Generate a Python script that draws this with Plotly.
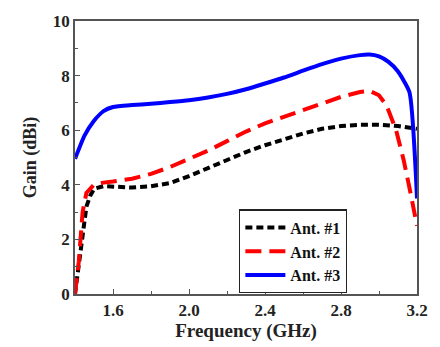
import plotly.graph_objects as go

freq1 = [1.40, 1.42, 1.44, 1.46, 1.48, 1.50, 1.55, 1.60, 1.70, 1.80, 1.90, 2.00, 2.10, 2.20, 2.30,
         2.40, 2.50, 2.60, 2.70, 2.80, 2.90, 3.00, 3.10, 3.20]
gain1 = [0.0, 1.0, 2.2, 3.2, 3.6, 3.85, 3.95, 3.93, 3.90, 3.95, 4.06, 4.32, 4.62, 4.93, 5.20,
         5.45, 5.68, 5.88, 6.05, 6.15, 6.20, 6.20, 6.15, 6.05]

freq2 = [1.40, 1.42, 1.44, 1.46, 1.50, 1.55, 1.60, 1.70, 1.80, 1.90, 2.00, 2.10, 2.20, 2.30,
         2.40, 2.50, 2.60, 2.70, 2.80, 2.90, 2.95, 3.00, 3.04, 3.09, 3.13, 3.16, 3.20]
gain2 = [0.0, 1.2, 3.0, 3.7, 4.0, 4.08, 4.12, 4.22, 4.40, 4.65, 4.95, 5.25, 5.60, 5.95,
         6.25, 6.50, 6.75, 6.97, 7.22, 7.40, 7.44, 7.28, 6.90, 6.00, 4.90, 3.90, 2.50]

freq3 = [1.40, 1.45, 1.50, 1.55, 1.60, 1.70, 1.80, 1.90, 2.00, 2.10, 2.20, 2.30, 2.40, 2.50,
         2.60, 2.70, 2.80, 2.90, 2.95, 3.00, 3.05, 3.10, 3.16, 3.20]
gain3 = [4.95, 5.80, 6.35, 6.70, 6.85, 6.92, 6.97, 7.03, 7.10, 7.20, 7.33, 7.50, 7.71, 7.93,
         8.18, 8.42, 8.62, 8.75, 8.77, 8.70, 8.50, 8.15, 7.40, 3.50]

names = ["Ant. #1", "Ant. #2", "Ant. #3"]
x_ticks = [1.6, 2.0, 2.4, 2.8, 3.2]
y_ticks = [0, 2, 4, 6, 8, 10]

font_family = "Liberation Serif"

fig = go.Figure()
fig.add_trace(go.Scatter(x=freq1, y=gain1, mode="lines", name=f"<b>{names[0]}</b>",
                         line=dict(color="black", width=4, dash="7px,4px")))
fig.add_trace(go.Scatter(x=freq2, y=gain2, mode="lines", name=f"<b>{names[1]}</b>",
                         line=dict(color="#ff0000", width=4, dash="16px,8px")))
fig.add_trace(go.Scatter(x=freq3, y=gain3, mode="lines", name=f"<b>{names[2]}</b>",
                         line=dict(color="#0000ff", width=4, shape="spline", smoothing=0.5)))

axis_common = dict(
    showline=True, linecolor="#555555", linewidth=1.5, mirror=True,
    ticks="inside", ticklen=5, tickcolor="#555555", tickwidth=1.2,
    showgrid=False, zeroline=False,
    tickfont=dict(family=font_family, size=17, color="#222222"),
)

fig.update_xaxes(
    range=[1.4, 3.2], tickvals=x_ticks, ticktext=[f"<b>{v:.1f}</b>" for v in x_ticks],
    minor=dict(ticks="inside", ticklen=3, dtick=0.2, tick0=1.4, tickcolor="#555555"),
    title=dict(text="<b>Frequency (GHz)</b>", font=dict(family=font_family, size=19, color="#222222"),
               standoff=2),
    **axis_common,
)
fig.update_yaxes(
    range=[0, 10], tickvals=y_ticks, ticktext=[f"<b>{v}</b>" for v in y_ticks],
    minor=dict(ticks="inside", ticklen=3, dtick=1, tick0=0, tickcolor="#555555"),
    title=dict(text="<b>Gain (dBi)</b>", font=dict(family=font_family, size=18, color="#222222"),
               standoff=12),
    **axis_common,
)

fig.update_layout(
    width=440, height=347,
    margin=dict(l=75, r=13, t=14, b=45),
    plot_bgcolor="white", paper_bgcolor="white",
    showlegend=True,
    legend=dict(
        x=0.48, y=0.31, xanchor="left", yanchor="top",
        bordercolor="#222222", borderwidth=1.2, bgcolor="white",
        font=dict(family=font_family, size=16, color="#111111"),
        itemwidth=40, tracegroupgap=0,
    ),
    font=dict(family=font_family),
)

fig.write_html("out.html")
